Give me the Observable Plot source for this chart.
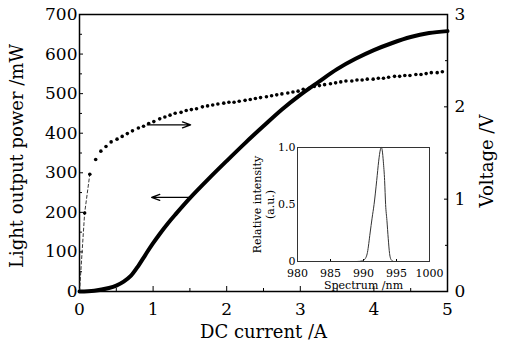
<!DOCTYPE html>
<html><head><meta charset="utf-8">
<script src="https://cdn.jsdelivr.net/npm/d3@7"></script>
<script src="https://cdn.jsdelivr.net/npm/@observablehq/plot@0.6"></script>
<style>
body{margin:0;background:#fff;}
#wrap{position:relative;width:505px;height:346px;overflow:hidden;background:#fff;}
#wrap svg{position:absolute;overflow:visible;}
</style></head><body><div id="wrap"></div>
<script>
// Light output power (solid line)
const powerCurrent = [0,0.2,0.4,0.5,0.6,0.7,0.8,0.9,1.0,1.1,1.2,1.3,1.5,1.75,2.0,2.25,2.5,2.75,3.0,3.25,3.5,3.75,4.0,4.25,4.5,4.75,5.0];
const powerMW      = [0,2,9,15,25,40,65,94,122,148,172,194,236,284,330,375,418,460,497,530,562,588,610,628,643,653,658];
// Voltage (dots)
const voltCurrent = [0.07,0.14,0.22,0.29,0.36,0.43,0.51,0.58,0.65,0.72,0.80,0.87,0.94,1.01,1.09,1.16,1.23,1.30,1.38,1.45,1.52,1.59,1.67,1.74,1.81,1.88,1.96,2.03,2.10,2.17,2.25,2.32,2.39,2.46,2.54,2.61,2.68,2.75,2.83,2.90,2.97,3.04,3.12,3.19,3.26,3.33,3.41,3.48,3.55,3.62,3.70,3.77,3.84,3.91,3.99,4.06,4.13,4.20,4.28,4.35,4.42,4.49,4.57,4.64,4.71,4.78,4.86,4.93];
const voltV       = [0.85,1.27,1.43,1.52,1.57,1.62,1.65,1.68,1.71,1.74,1.77,1.79,1.82,1.84,1.87,1.89,1.91,1.93,1.94,1.96,1.97,1.98,2.00,2.01,2.02,2.03,2.04,2.05,2.05,2.06,2.07,2.08,2.09,2.10,2.11,2.12,2.13,2.14,2.15,2.16,2.17,2.19,2.20,2.22,2.23,2.24,2.25,2.26,2.27,2.28,2.28,2.29,2.29,2.30,2.30,2.31,2.31,2.32,2.33,2.33,2.34,2.34,2.35,2.35,2.36,2.37,2.37,2.38];
// dashed connector near origin (voltage)
const dashCurrent = [0,0.07,0.14];
const dashV       = [0,0.85,1.27];
// arrows: [power-pointing, voltage-pointing]
const arrowFrom = [1.51, 0.92];
const arrowTo   = [0.98, 1.51];
const arrowPower = [238, null];
const arrowVolt  = [null, 1.805];
// inset spectrum
const spectrumNm  = [980,985,989,989.8,990.2,990.6,991.0,991.3,991.6,992.0,992.3,992.55,992.7,992.85,993.0,993.2,993.35,993.55,993.75,993.95,994.2,994.6,995.5,1000];
const spectrumInt = [0,0,0,0.005,0.02,0.08,0.25,0.38,0.5,0.71,0.88,0.98,1.0,0.97,0.88,0.71,0.5,0.36,0.2,0.07,0.015,0,0,0];
// ticks
const xTicks = [0,1,2,3,4,5];
const xMinor = [0.5,1.5,2.5,3.5,4.5];
const yTicks = [0,100,200,300,400,500,600,700];
const yMinor = [50,150,250,350,450,550,650];
const vTicks = [0,1,2,3];
const vMinor = [0.5,1.5,2.5];
const insetXTicks = [980,985,990,995,1000];
const insetYTicks = [0,0.5,1];

const VMAX = 3, PMAX = 700;
const v2p = v => v * PMAX / VMAX;
const FONT = "DejaVu Serif";

const powerData = powerCurrent.map((c,i)=>({c, p: powerMW[i]}));
const voltData = voltCurrent.map((c,i)=>({c, v: voltV[i]}));
const dashData = dashCurrent.map((c,i)=>({c, v: dashV[i]}));
const arrowData = arrowFrom.map((f,i)=>({x1:f, x2:arrowTo[i], y: arrowPower[i] != null ? arrowPower[i] : v2p(arrowVolt[i])}));
const specData = spectrumNm.map((n,i)=>({n, s: spectrumInt[i]}));
const blank = () => "";
const plain = d => String(d);

const main = Plot.plot({
  width: 505, height: 346,
  marginLeft: 79, marginRight: 58, marginTop: 14, marginBottom: 55,
  style: {fontFamily: FONT, fontSize: "17px", color: "#000", background: "transparent"},
  x: {domain: [0,5]},
  y: {domain: [0,700]},
  marks: [
    Plot.axisX({ticks: xTicks, tickSize: 0, tickPadding: 11, tickFormat: plain, label: null}),
    Plot.axisX({ticks: xTicks, tickSize: -5, tickFormat: blank, label: null}),
    Plot.axisX({ticks: xMinor, tickSize: -3, tickFormat: blank, label: null}),
    Plot.axisY({ticks: yTicks, tickSize: 0, tickPadding: 2, tickFormat: plain, label: null}),
    Plot.axisY({ticks: yTicks, tickSize: -4, tickFormat: blank, label: null}),
    Plot.axisY({ticks: yMinor, tickSize: -3, tickFormat: blank, label: null}),
    Plot.axisY({anchor: "right", ticks: vTicks.map(v2p), tickSize: 0, tickPadding: 7, tickFormat: d => String(Math.round(d*VMAX/PMAX)), label: null}),
    Plot.axisY({anchor: "right", ticks: vTicks.map(v2p), tickSize: -4, tickFormat: blank, label: null}),
    Plot.axisY({anchor: "right", ticks: vMinor.map(v2p), tickSize: -3, tickFormat: blank, label: null}),
    Plot.frame({stroke: "#000", strokeWidth: 1.5}),
    Plot.line(dashData, {x: "c", y: d => v2p(d.v), stroke: "#222", strokeWidth: 0.9, strokeDasharray: "3,2.5"}),
    Plot.dot(voltData, {x: "c", y: d => v2p(d.v), r: 1.8, fill: "#000", stroke: "none"}),
    Plot.line(powerData, {x: "c", y: "p", stroke: "#000", strokeWidth: 4, curve: "catmull-rom"}),
    Plot.arrow(arrowData, {x1: "x1", x2: "x2", y1: "y", y2: "y", stroke: "#000", strokeWidth: 1.3, headLength: 10, headAngle: 40}),
    Plot.text(["DC current /A"], {frameAnchor: "bottom", dy: 41, fontSize: 18, lineAnchor: "middle", textAnchor: "middle"}),
    Plot.text(["Light output power /mW"], {frameAnchor: "left", dx: -62, dy: 3, rotate: -90, fontSize: 18, lineAnchor: "middle", textAnchor: "middle"}),
    Plot.text(["Voltage /V"], {frameAnchor: "right", dx: 40, dy: 8, rotate: -90, fontSize: 18, lineAnchor: "middle", textAnchor: "middle"})
  ]
});
main.style.left = "0px"; main.style.top = "0px";
document.getElementById("wrap").appendChild(main);

const inset = Plot.plot({
  width: 209, height: 155,
  marginLeft: 57, marginRight: 20, marginTop: 7, marginBottom: 34,
  style: {fontFamily: FONT, fontSize: "11px", color: "#000", background: "transparent"},
  x: {domain: [980,1000]},
  y: {domain: [0,1]},
  marks: [
    Plot.axisX({ticks: insetXTicks, tickSize: 0, tickPadding: 8, tickFormat: plain, label: null}),
    Plot.axisX({ticks: insetXTicks, tickSize: -2, tickFormat: blank, label: null}),
    Plot.axisY({ticks: insetYTicks, tickSize: 0, tickPadding: 2, tickFormat: d => d === 0 ? "0" : d.toFixed(1), label: null}),
    Plot.frame({stroke: "#333", strokeWidth: 1}),
    Plot.line(specData, {x: "n", y: "s", stroke: "#333", strokeWidth: 1, curve: "monotone-x"}),
    Plot.text(["Spectrum /nm"], {frameAnchor: "bottom", dy: 24, lineAnchor: "middle", textAnchor: "middle"}),
    Plot.text(["Relative intensity"], {frameAnchor: "left", dx: -40, rotate: -90, lineAnchor: "middle", textAnchor: "middle"}),
    Plot.text(["(a.u.)"], {frameAnchor: "left", dx: -27, rotate: -90, lineAnchor: "middle", textAnchor: "middle"})
  ]
});
inset.style.left = "240px"; inset.style.top = "140px";
document.getElementById("wrap").appendChild(inset);
</script></body></html>
